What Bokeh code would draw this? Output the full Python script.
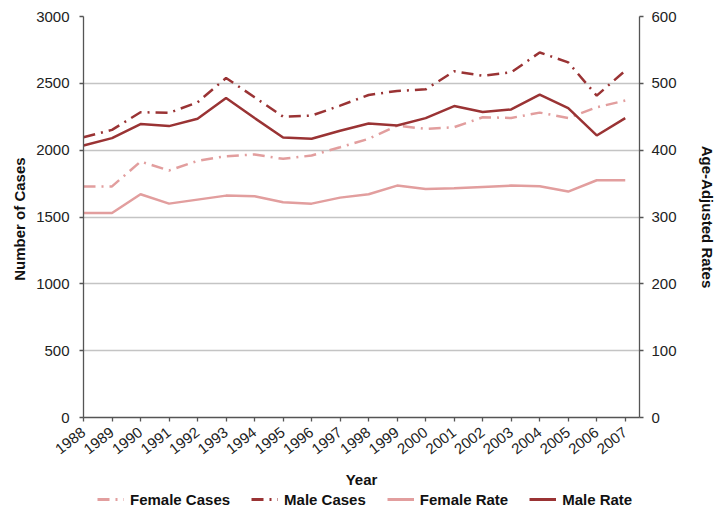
from bokeh.plotting import figure
from bokeh.layouts import column
from bokeh.models import (ColumnDataSource, Range1d, LinearAxis, FixedTicker,
                          Legend, LegendItem)
from bokeh.embed import file_html
from bokeh.resources import INLINE

years = list(range(1988, 2008))
female_cases = [1729, 1729, 1915, 1848, 1920, 1955, 1968, 1935, 1960, 2022,
                2085, 2184, 2159, 2172, 2246, 2241, 2281, 2241, 2321, 2371]
male_cases = [2097, 2152, 2284, 2279, 2358, 2540, 2396, 2251, 2259, 2333,
              2413, 2443, 2455, 2590, 2557, 2582, 2731, 2657, 2408, 2595]
female_rate = [306, 306, 334, 320, 326, 332, 331, 322, 320, 329,
               334, 347, 342, 343, 345, 347, 346, 338, 355, 355]
male_rate = [407, 418, 439, 436, 447, 478, 448, 419, 417, 429,
             440, 437, 448, 466, 457, 461, 483, 463, 422, 448]
left_ticks = [0, 500, 1000, 1500, 2000, 2500, 3000]
right_ticks = [0, 100, 200, 300, 400, 500, 600]
series_labels = ["Female Cases", "Male Cases", "Female Rate", "Male Rate"]

DARK = "#9A3334"
LIGHT = "#E29E9E"
FONT = "Liberation Sans"
DASH = "12 6 2 6"

src = ColumnDataSource(dict(year=years, fc=female_cases, mc=male_cases,
                            fr=female_rate, mr=male_rate))

p = figure(width=718, height=490, output_backend="svg", toolbar_location=None,
           x_range=Range1d(1988, 2007.5), y_range=Range1d(0, 3000),
           min_border_left=83, min_border_right=66, min_border_top=16,
           min_border_bottom=73)
p.outline_line_color = None
p.background_fill_color = "white"
p.border_fill_color = "white"
p.extra_y_ranges = {"rate": Range1d(0, 600)}

p.xaxis.ticker = FixedTicker(ticks=years)
p.xaxis.major_label_orientation = 0.66
p.xaxis.axis_label = "Year"
p.yaxis.ticker = FixedTicker(ticks=left_ticks)
p.yaxis.axis_label = "Number  of Cases"

right = LinearAxis(y_range_name="rate", ticker=FixedTicker(ticks=right_ticks),
                   axis_label="Age-Adjusted Rates")
p.add_layout(right, "right")

for ax in [p.xaxis[0], p.yaxis[0], right]:
    ax.axis_line_color = "#555555"
    ax.axis_line_width = 1.3
    ax.major_tick_line_color = "#555555"
    ax.major_tick_line_width = 1.3
    ax.major_tick_in = 0
    ax.major_tick_out = 4
    ax.minor_tick_line_color = None
    ax.major_label_text_font = FONT
    ax.major_label_text_font_size = "15px"
    ax.major_label_text_color = "#222222"
    ax.axis_label_text_font = FONT
    ax.axis_label_text_font_size = "15px"
    ax.axis_label_text_font_style = "bold"
    ax.axis_label_text_color = "#111111"

p.yaxis[0].major_label_standoff = 10
p.yaxis[0].axis_label_standoff = 5
right.major_label_standoff = 8
right.axis_label_standoff = 19
p.xaxis[0].major_label_standoff = 9
p.xaxis[0].axis_label_standoff = 9

p.xgrid.grid_line_color = None
p.ygrid.grid_line_color = "#c4c4c4"
p.ygrid.grid_line_width = 1.5
p.ygrid.ticker = FixedTicker(ticks=left_ticks)

p.line("year", "fc", source=src, color=LIGHT, line_width=2.5, line_dash=DASH)
p.line("year", "mc", source=src, color=DARK, line_width=2.5, line_dash=DASH)
p.line("year", "fr", source=src, color=LIGHT, line_width=2.5, y_range_name="rate")
p.line("year", "mr", source=src, color=DARK, line_width=2.5, y_range_name="rate")

# legend strip below the chart (legend-only figure, no data drawn)
lg = figure(width=718, height=19, output_backend="svg", toolbar_location=None,
            x_range=Range1d(0, 1), y_range=Range1d(0, 1),
            min_border_left=0, min_border_right=0, min_border_top=0,
            min_border_bottom=0)
lg.axis.visible = False
lg.grid.grid_line_color = None
lg.outline_line_color = None
styles = [(LIGHT, DASH), (DARK, DASH), (LIGHT, "solid"), (DARK, "solid")]
items = []
for lab, (col, dash) in zip(series_labels, styles):
    r = lg.line(x=[float("nan")], y=[float("nan")], color=col, line_width=3,
                line_dash=dash)
    items.append(LegendItem(label=lab, renderers=[r]))
legend = Legend(items=items, orientation="horizontal", location=(14, 0),
                label_text_font=FONT, label_text_font_size="15px",
                label_text_font_style="bold", label_text_color="#111111",
                glyph_width=27, label_standoff=6, spacing=21,
                border_line_color=None, background_fill_alpha=0,
                padding=0, margin=0)
lg.add_layout(legend, "center")

layout = column(p, lg, spacing=0)
open("out.html", "w").write(file_html(layout, INLINE))
